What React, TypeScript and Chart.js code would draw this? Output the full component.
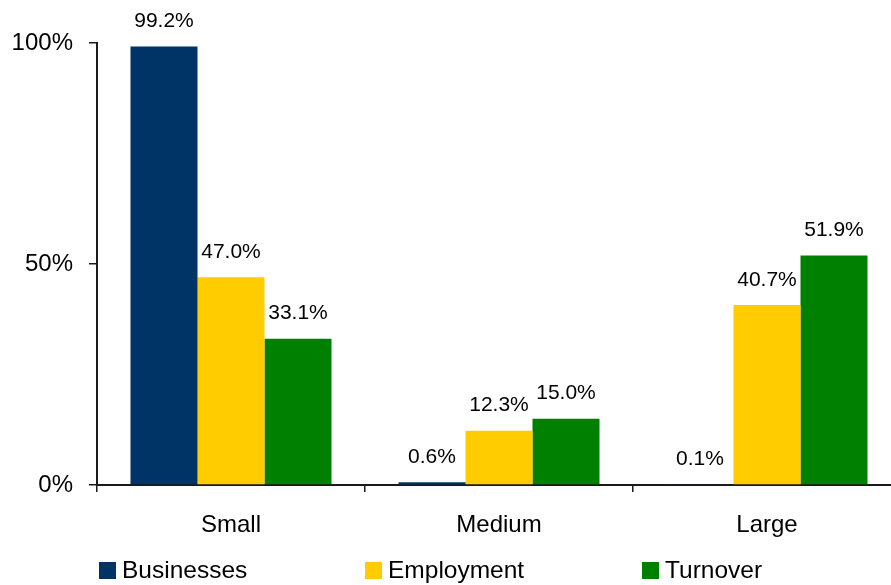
import React, { useEffect, useRef } from "react";
import { Chart, registerables } from "chart.js";

Chart.register(...registerables);

const categories = ["Small", "Medium", "Large"];
const businesses = [99.2, 0.6, 0.1];
const employment = [47.0, 12.3, 40.7];
const turnover = [33.1, 15.0, 51.9];
const seriesNames = ["Businesses", "Employment", "Turnover"];
const seriesColors = ["#003366", "#FFCC00", "#008000"];
const yTicks = [0, 50, 100];

const FONT = '"Liberation Sans", Arial, sans-serif';
const AXIS = "#1a1a1a";

const dataLabelPlugin = {
  id: "dataLabels",
  afterDatasetsDraw(chart: any) {
    const ctx = chart.ctx;
    ctx.save();
    ctx.font = `21px ${FONT}`;
    ctx.fillStyle = "#000";
    ctx.textAlign = "center";
    ctx.textBaseline = "middle";
    chart.data.datasets.forEach((ds: any, i: number) => {
      const meta = chart.getDatasetMeta(i);
      meta.data.forEach((el: any, j: number) => {
        ctx.fillText(ds.data[j].toFixed(1) + "%", el.x, el.y - 25);
      });
    });
    ctx.restore();
  },
};

const legendX = [99, 365, 642];
const legendPlugin = {
  id: "customLegend",
  afterDraw(chart: any) {
    const ctx = chart.ctx;
    ctx.save();
    ctx.font = `24.5px ${FONT}`;
    ctx.textAlign = "left";
    ctx.textBaseline = "alphabetic";
    chart.data.datasets.forEach((ds: any, i: number) => {
      const x = legendX[i];
      ctx.fillStyle = ds.backgroundColor;
      ctx.fillRect(x, 562, 17, 17);
      ctx.fillStyle = "#000";
      ctx.fillText(ds.label, x + 23, 578);
    });
    ctx.restore();
  },
};

export default function App() {
  const ref = useRef<HTMLCanvasElement | null>(null);
  useEffect(() => {
    if (!ref.current) return;
    const seriesData = [businesses, employment, turnover];
    const chart = new Chart(ref.current, {
      type: "bar",
      data: {
        labels: categories,
        datasets: seriesData.map((d, i) => ({
          label: seriesNames[i],
          data: d,
          backgroundColor: seriesColors[i],
          borderWidth: 0,
          categoryPercentage: 0.75,
          barPercentage: 1.0,
        })),
      },
      options: {
        responsive: false,
        animation: false,
        layout: { padding: { top: 43, right: 9, left: 0, bottom: 0 } },
        plugins: {
          legend: { display: false },
          tooltip: { enabled: false },
        },
        scales: {
          x: {
            grid: {
              offset: true,
              drawOnChartArea: false,
              drawTicks: true,
              tickLength: 7,
              color: AXIS,
              lineWidth: 1.5,
            },
            border: { display: true, color: AXIS, width: 2 },
            ticks: {
              color: "#000",
              font: { family: FONT, size: 24 },
              padding: 19,
            },
            afterFit: (s: any) => {
              s.height = 100;
            },
          },
          y: {
            min: 0,
            max: 100,
            afterBuildTicks: (s: any) => {
              s.ticks = yTicks.map((v) => ({ value: v }));
            },
            grid: {
              drawOnChartArea: false,
              drawTicks: true,
              tickLength: 8,
              color: AXIS,
              lineWidth: 1.5,
            },
            border: { display: true, color: AXIS, width: 2 },
            ticks: {
              color: "#000",
              font: { family: FONT, size: 24 },
              padding: 16,
              callback: (v: any) => v + "%",
            },
            afterFit: (s: any) => {
              s.width = 97;
            },
          },
        },
      },
      plugins: [dataLabelPlugin, legendPlugin],
    });
    return () => chart.destroy();
  }, []);

  return (
    <div
      style={{
        position: "absolute",
        left: 0,
        top: 0,
        width: 891,
        height: 585,
        overflow: "hidden",
        background: "#fff",
      }}
    >
      <canvas ref={ref} width={910} height={585} style={{ display: "block" }} />
    </div>
  );
}
